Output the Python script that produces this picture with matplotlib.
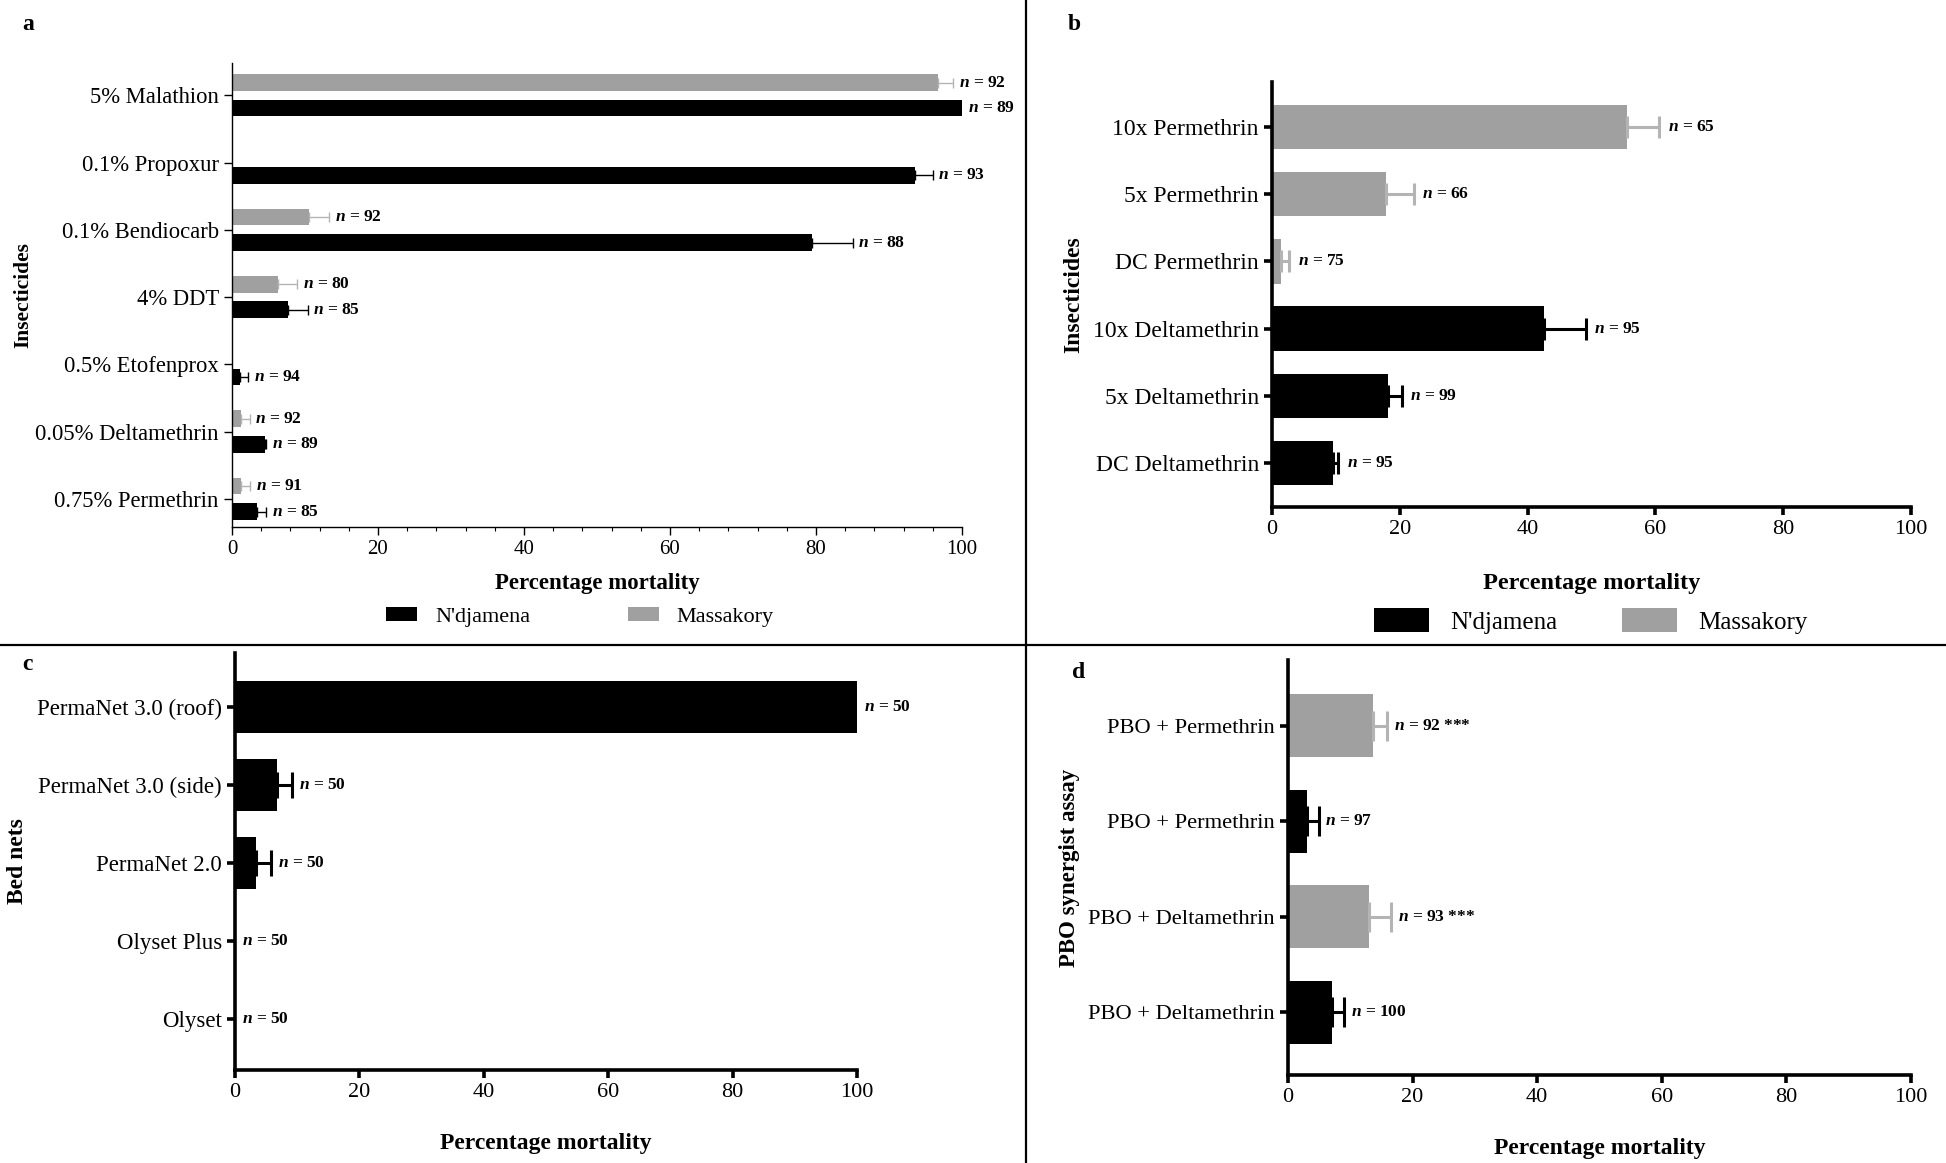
import matplotlib
matplotlib.use("Agg")
import matplotlib.pyplot as plt
from matplotlib.patches import Patch
from matplotlib.lines import Line2D
import numpy as np

plt.rcParams['font.family'] = ['Liberation Serif', 'DejaVu Serif']
plt.rcParams['mathtext.fontset'] = 'custom'
plt.rcParams['mathtext.it'] = 'Liberation Serif:italic:bold'
plt.rcParams['mathtext.rm'] = 'Liberation Serif'

BLACK = "#000000"
GREY = "#a0a0a0"
GREY_ERR = "#b4b4b4"

# ---- panel a: WHO tube tests, diagnostic doses
a_labels = ["5% Malathion", "0.1% Propoxur", "0.1% Bendiocarb", "4% DDT",
            "0.5% Etofenprox", "0.05% Deltamethrin", "0.75% Permethrin"]
a_ndj = [100, 93.5, 79.5, 7.7, 1.1, 4.5, 3.4]
a_ndj_err = [0, 2.5, 5.5, 2.7, 1.1, 0.2, 1.3]
a_ndj_n = [89, 93, 88, 85, 94, 89, 85]
a_mas = [96.7, None, 10.6, 6.3, None, 1.2, 1.2]
a_mas_err = [2.1, None, 2.7, 2.6, None, 1.2, 1.3]
a_mas_n = [92, None, 92, 80, None, 92, 91]

# ---- panel b: intensity assays
b_labels = ["10x Permethrin", "5x Permethrin", "DC Permethrin",
            "10x Deltamethrin", "5x Deltamethrin", "DC Deltamethrin"]
b_vals = [55.5, 17.9, 1.4, 42.5, 18.2, 9.5]
b_err = [5.1, 4.3, 1.3, 6.6, 2.1, 0.9]
b_n = [65, 66, 75, 95, 99, 95]
b_site = ["Massakory", "Massakory", "Massakory", "N'djamena", "N'djamena", "N'djamena"]

# ---- panel c: cone bioassays on bed nets
c_labels = ["PermaNet 3.0 (roof)", "PermaNet 3.0 (side)", "PermaNet 2.0",
            "Olyset Plus", "Olyset"]
c_vals = [100, 6.7, 3.3, 0, 0]
c_err = [0, 2.5, 2.5, 0, 0]
c_n = [50, 50, 50, 50, 50]

# ---- panel d: PBO synergist assay
d_labels = ["PBO + Permethrin", "PBO + Permethrin", "PBO + Deltamethrin",
            "PBO + Deltamethrin"]
d_vals = [13.6, 3.0, 13.0, 7.0]
d_err = [2.3, 1.9, 3.6, 2.0]
d_n = ["92 ***", "97", "93 ***", "100"]
d_site = ["Massakory", "N'djamena", "Massakory", "N'djamena"]

W, H = 1946, 1163
fig = plt.figure(figsize=(W / 100, H / 100), dpi=100)


def box(l, t, r, b):
    return [l / W, 1 - b / H, (r - l) / W, (b - t) / H]


def style_axis(ax, lw, ticksize, ticklen):
    for s in ["top", "right"]:
        ax.spines[s].set_visible(False)
    for s in ["left", "bottom"]:
        ax.spines[s].set_linewidth(lw)
    ax.tick_params(axis="both", width=lw, length=ticklen, labelsize=ticksize,
                   direction="out")
    ax.set_xlim(0, 100)
    ax.set_xticks([0, 20, 40, 60, 80, 100])


def nlabel(ax, x, y, txt, off, size=12.5):
    ax.annotate(r"$n$" + " = " + str(txt), (x, y), xytext=(off, 0),
                textcoords="offset points", va="center", ha="left",
                fontsize=size, fontweight="bold")


def bars(ax, y, vals, errs, colors, ecolors, height, elw, cap, ns, off, nsize=12.5):
    for yi, v, e, c, ec, n in zip(y, vals, errs, colors, ecolors, ns):
        if v is None:
            continue
        ax.barh(yi, v, height=height, color=c, edgecolor="none")
        if e > 0:
            ax.errorbar(v, yi, xerr=[[0], [e]], fmt="none", ecolor=ec,
                        elinewidth=elw, capsize=cap, capthick=elw)
        nlabel(ax, v + e, yi, n, off, nsize)


# ---------------- a
ax_a = fig.add_axes(box(232, 63, 962, 527))
style_axis(ax_a, 1.0, 15, 6)
ya = np.arange(len(a_labels))
bars(ax_a, ya - 0.19, a_mas, a_mas_err, [GREY] * 7, [GREY_ERR] * 7, 0.25, 1.0, 3.5, a_mas_n, 4)
bars(ax_a, ya + 0.19, a_ndj, a_ndj_err, [BLACK] * 7, [BLACK] * 7, 0.25, 1.0, 3.5, a_ndj_n, 4)
ax_a.set_yticks(ya)
ax_a.set_yticklabels(a_labels, fontsize=16.3)
ax_a.set_ylim(6.42, -0.48)
ax_a.set_xticks(np.arange(0, 101, 4), minor=True)
ax_a.tick_params(axis="x", which="minor", length=3, width=0.8)
ax_a.set_xlabel("Percentage mortality", fontsize=16.5, fontweight="bold", labelpad=10)
ax_a.set_ylabel("Insecticides", fontsize=15.5, fontweight="bold")
ax_a.yaxis.set_label_coords(-0.272, 0.5)
fig.text(22 / W, 1 - 25 / H, "a", fontsize=17, fontweight="bold", va="center")

leg_handles = [Patch(facecolor=BLACK, edgecolor="none", label="N'djamena"),
               Patch(facecolor=GREY, edgecolor="none", label="Massakory")]
fig.legend(handles=leg_handles, loc="center", bbox_to_anchor=(580 / W, 1 - 617 / H),
           ncol=2, frameon=False, fontsize=16, handlelength=1.4, handleheight=0.6,
           handletextpad=0.8, columnspacing=4.4)

# ---------------- b
ax_b = fig.add_axes(box(1272, 82, 1911, 507))
style_axis(ax_b, 2.6, 16, 6)
yb = np.arange(len(b_labels))
bcol = [GREY if s == "Massakory" else BLACK for s in b_site]
becol = [GREY_ERR if s == "Massakory" else BLACK for s in b_site]
bars(ax_b, yb, b_vals, b_err, bcol, becol, 0.66, 2.2, 8, b_n, 6)
ax_b.set_yticks(yb)
ax_b.set_yticklabels(b_labels, fontsize=17)
ax_b.set_ylim(5.655, -0.67)
ax_b.set_xlabel("Percentage mortality", fontsize=17.5, fontweight="bold", labelpad=24)
ax_b.set_ylabel("Insecticides", fontsize=17, fontweight="bold", labelpad=6)
fig.text(1068 / W, 1 - 25 / H, "b", fontsize=17, fontweight="bold", va="center")
fig.legend(handles=leg_handles, loc="center", bbox_to_anchor=(1591 / W, 1 - 621 / H),
           ncol=2, frameon=False, fontsize=18, handlelength=2.2, handleheight=1.05,
           handletextpad=0.85, columnspacing=2.6)

# ---------------- c
ax_c = fig.add_axes(box(235, 653, 857, 1070))
style_axis(ax_c, 2.6, 16, 6)
yc = np.arange(len(c_labels))
bars(ax_c, yc, c_vals, c_err, [BLACK] * 5, [BLACK] * 5, 0.66, 2.2, 9.5, c_n, 5)
ax_c.set_yticks(yc)
ax_c.set_yticklabels(c_labels, fontsize=16.5)
ax_c.set_ylim(4.65, -0.69)
ax_c.set_xlabel("Percentage mortality", fontsize=17, fontweight="bold", labelpad=22)
ax_c.set_ylabel("Bed nets", fontsize=17, fontweight="bold", labelpad=6)
fig.text(22 / W, 1 - 665 / H, "c", fontsize=17, fontweight="bold", va="center")

# ---------------- d
ax_d = fig.add_axes(box(1288, 660, 1911, 1075))
style_axis(ax_d, 2.6, 16, 6)
yd = np.arange(len(d_labels))
dcol = [GREY if s == "Massakory" else BLACK for s in d_site]
decol = [GREY_ERR if s == "Massakory" else BLACK for s in d_site]
bars(ax_d, yd, d_vals, d_err, dcol, decol, 0.66, 2.2, 11, d_n, 5)
ax_d.set_yticks(yd)
ax_d.set_yticklabels(d_labels, fontsize=16.2)
ax_d.set_ylim(3.66, -0.69)
ax_d.set_xlabel("Percentage mortality", fontsize=17, fontweight="bold", labelpad=22)
ax_d.set_ylabel("PBO synergist assay", fontsize=16.5, fontweight="bold", labelpad=6)
fig.text(1072 / W, 1 - 672 / H, "d", fontsize=17, fontweight="bold", va="center")

# ---------------- panel dividers
fig.add_artist(Line2D([0, 1], [1 - 645 / H, 1 - 645 / H], color="black", lw=1.6,
                      transform=fig.transFigure))
fig.add_artist(Line2D([1026 / W, 1026 / W], [0, 1], color="black", lw=1.6,
                      transform=fig.transFigure))

fig.savefig("out.png", dpi=100, facecolor="white")
